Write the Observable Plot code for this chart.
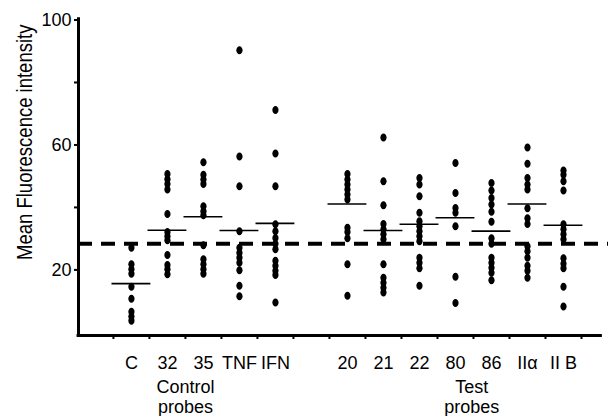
<!DOCTYPE html>
<html>
<head>
<meta charset="utf-8">
<script src="https://cdn.jsdelivr.net/npm/d3@7"></script>
<script src="https://cdn.jsdelivr.net/npm/@observablehq/plot@0.6"></script>
<style>
  body { margin: 0; background: #fff; }
</style>
</head>
<body>
<div id="chart"></div>
<script>
// ---- data ----
const categories = ["C", "32", "35", "TNF", "IFN", "20", "21", "22", "80", "86", "IIα", "II B"];
const slots = [0, 1, 2, 3, 4, 6, 7, 8, 9, 10, 11, 12];

const valC   = [27.1, 21.8, 20.2, 18.8, 14.6, 10.8, 6.6, 5.1, 3.7];
const val32  = [50.7, 49.0, 47.5, 45.7, 37.9, 32.1, 30.8, 29.5, 24.8, 21.6, 20.2, 18.6];
const val35  = [54.5, 50.5, 48.9, 47.5, 40.4, 38.8, 37.5, 27.9, 23.4, 21.8, 20.2, 18.8];
const valTNF = [90.3, 56.3, 46.8, 32.4, 27.1, 25.5, 23.9, 22.3, 19.9, 14.9, 11.6];
const valIFN = [71.2, 57.3, 46.8, 34.6, 32.4, 30.2, 28.4, 26.6, 22.9, 21.3, 19.7, 18.4, 9.6];
const val20  = [50.7, 48.9, 47.3, 45.7, 44.1, 42.5, 33.5, 32.1, 30.1, 21.8, 11.7];
const val21  = [62.4, 48.4, 40.7, 34.7, 33.0, 31.4, 29.8, 21.8, 17.5, 15.9, 14.3, 12.8];
const val22  = [49.4, 47.3, 43.6, 38.3, 35.6, 34.0, 32.4, 30.8, 29.2, 23.9, 22.3, 20.5, 14.9];
const val80  = [54.2, 44.6, 39.8, 38.3, 34.0, 17.8, 9.4];
const val86  = [47.8, 45.4, 43.0, 40.9, 38.6, 35.4, 30.1, 28.4, 23.9, 22.3, 20.7, 19.1, 16.7];
const valIIa = [59.2, 54.0, 49.4, 47.3, 45.7, 39.7, 36.5, 34.7, 27.6, 26.0, 23.9, 21.3, 19.7, 17.5];
const valIIB = [51.8, 50.5, 48.4, 45.4, 34.6, 33.0, 31.4, 29.8, 23.7, 22.0, 20.5, 14.6, 8.3];
const seriesValues = [valC, val32, val35, valTNF, valIFN, val20, val21, val22, val80, val86, valIIa, valIIB];

const means = [15.6, 32.7, 37.0, 32.6, 34.9, 41.1, 32.6, 34.6, 36.7, 32.4, 41.1, 34.3];
const threshold = 28.4;

const groupLabels = ["Control\nprobes", "Test\nprobes"];
const groupSlots = [1.5, 9.45];

const yTicks = [20, 40, 60, 80, 100];
const yTickLabels = ["20", "", "60", "", "100"];
const yLabel = "Mean Fluorescence intensity";

// ---- tables for the library ----
const points = categories.flatMap((c, i) => seriesValues[i].map(v => ({cat: c, slot: slots[i], value: v})));
const meanRows = categories.map((c, i) => ({cat: c, slot: slots[i], mean: means[i]}));
const xBounds = d3.range(-0.5, 13, 1);

const xMin = -1.47, xMax = 13.25, xAxisEnd = 13.08;
const yMin = -1, yMax = 100, yAxisTop = 100.7;

// ellipse symbol (dots in the reference are slightly taller than wide)
const ellipse = {
  draw(context, size) {
    const r = Math.sqrt(size / Math.PI);
    const rx = r * 0.78, ry = r, k = 0.5523;
    context.moveTo(rx, 0);
    context.bezierCurveTo(rx, ry * k, rx * k, ry, 0, ry);
    context.bezierCurveTo(-rx * k, ry, -rx, ry * k, -rx, 0);
    context.bezierCurveTo(-rx, -ry * k, -rx * k, -ry, 0, -ry);
    context.bezierCurveTo(rx * k, -ry, rx, -ry * k, rx, 0);
    context.closePath();
  }
};

const chart = Plot.plot({
  width: 608,
  height: 416,
  marginLeft: 78,
  marginRight: 0,
  marginTop: 19.5,
  marginBottom: 81,
  style: {fontFamily: "'Liberation Sans', Arial, Helvetica, sans-serif", fontSize: "18px", color: "black", background: "white", overflow: "visible"},
  x: {type: "linear", domain: [xMin, xMax]},
  y: {domain: [yMin, yMax]},
  marks: [
    Plot.axisY(yTicks, {tickSize: 4, tickPadding: 3, strokeWidth: 2, fontSize: 18, label: null,
      tickFormat: d => yTickLabels[yTicks.indexOf(d)]}),
    Plot.axisX(xBounds, {tickSize: 4, strokeWidth: 2, label: null, tickFormat: () => ""}),
    Plot.ruleY([threshold], {stroke: "black", strokeWidth: 4, strokeDasharray: "14,9"}),
    Plot.ruleX([xMin], {y1: yMin - 0.5, y2: yAxisTop, stroke: "black", strokeWidth: 3}),
    Plot.ruleY([yMin], {x1: xMin - 0.04, x2: xAxisEnd, stroke: "black", strokeWidth: 3}),
    Plot.ruleY(meanRows, {y: "mean", x1: d => d.slot - 0.54, x2: d => d.slot + 0.54, stroke: "black", strokeWidth: 1.6}),
    Plot.dot(points, {x: "slot", y: "value", r: 4, symbol: ellipse, fill: "black", stroke: "none"}),
    Plot.text(categories, {x: slots, text: d => d, frameAnchor: "bottom", dy: 33, lineAnchor: "bottom", fontSize: 18, fill: "black"}),
    Plot.text(groupLabels, {x: groupSlots, text: d => d, frameAnchor: "bottom", dy: 77, lineAnchor: "bottom", lineHeight: 1.06, fontSize: 18, fill: "black"}),
    Plot.text([yLabel], {frameAnchor: "left", rotate: -90, dx: -47, dy: -35.5, textAnchor: "middle", lineAnchor: "bottom", fontSize: 18.5, fill: "black", text: d => d})
  ]
});

// the reference's rotated label has taller glyphs: stretch them across the baseline
d3.select(chart).selectAll("text").filter(function() { return this.textContent === yLabel; })
  .each(function() {
    const t = this.getAttribute("transform") || "";
    this.setAttribute("transform", (t + " scale(1,1.24)").trim());
  });

document.getElementById("chart").appendChild(chart);
</script>
</body>
</html>
